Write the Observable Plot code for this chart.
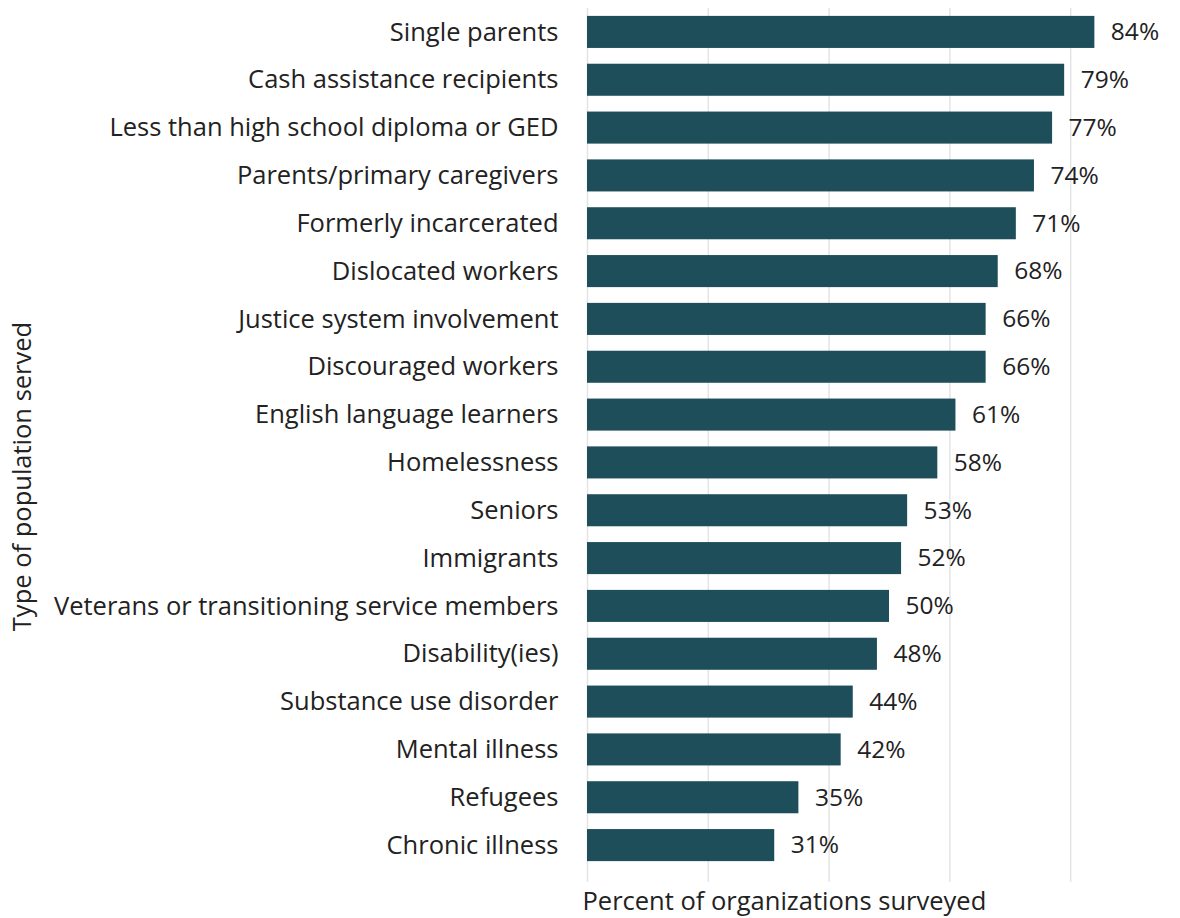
<!DOCTYPE html>
<html>
<head>
<meta charset="utf-8">
<script src="https://cdn.jsdelivr.net/npm/d3@7"></script>
<script src="https://cdn.jsdelivr.net/npm/@observablehq/plot@0.6"></script>
<style>
  html, body { margin: 0; padding: 0; background: #fff; }
  #chart svg { display: block; }
</style>
</head>
<body>
<div id="chart"></div>
<script>
const categories = [
  "Single parents",
  "Cash assistance recipients",
  "Less than high school diploma or GED",
  "Parents/primary caregivers",
  "Formerly incarcerated",
  "Dislocated workers",
  "Justice system involvement",
  "Discouraged workers",
  "English language learners",
  "Homelessness",
  "Seniors",
  "Immigrants",
  "Veterans or transitioning service members",
  "Disability(ies)",
  "Substance use disorder",
  "Mental illness",
  "Refugees",
  "Chronic illness"
];
const percents = [84, 79, 77, 74, 71, 68, 66, 66, 61, 58, 53, 52, 50, 48, 44, 42, 35, 31];
const gridTicks = [0, 20, 40, 60, 80];
const xLabel = "Percent of organizations surveyed";
const yLabel = "Type of population served";

const data = categories.map((c, i) => ({category: c, value: percents[i]}));

const font = "'Open Sans', Lato, sans-serif";
const fs = 25.5;

const chart = Plot.plot({
  width: 1180,
  height: 918,
  marginLeft: 587,
  marginRight: 0,
  marginTop: 8,
  marginBottom: 36,
  style: {fontFamily: font, fontSize: fs + "px", color: "#222", background: "#fff"},
  x: {domain: [0, 100], range: [587, 1191], axis: null},
  y: {domain: categories, range: [8, 869], paddingInner: 0.33, paddingOuter: 0.165, round: false},
  marks: [
    Plot.ruleX(gridTicks, {stroke: "#e4e4e4", strokeWidth: 1.5}),
    Plot.barX(data, {x: "value", y: "category", fill: "#1f4e5b"}),
    Plot.text(data, {
      x: "value", y: "category",
      text: d => d.value + "%",
      textAnchor: "start", dx: 16, fill: "#222",
      fontSize: 24.5
    }),
    Plot.axisY({tickSize: 0, tickPadding: 29, fontSize: fs, label: null}),
    Plot.text([xLabel], {
      frameAnchor: "bottom-left", dx: -5, dy: 19, lineAnchor: "middle",
      textAnchor: "start", fontSize: fs, fill: "#222"
    }),
    Plot.text([yLabel], {
      frameAnchor: "left", rotate: -90, dx: -565, dy: 31,
      textAnchor: "middle", lineAnchor: "middle",
      fontSize: fs, fill: "#222"
    })
  ]
});
document.getElementById("chart").appendChild(chart);
</script>
</body>
</html>
